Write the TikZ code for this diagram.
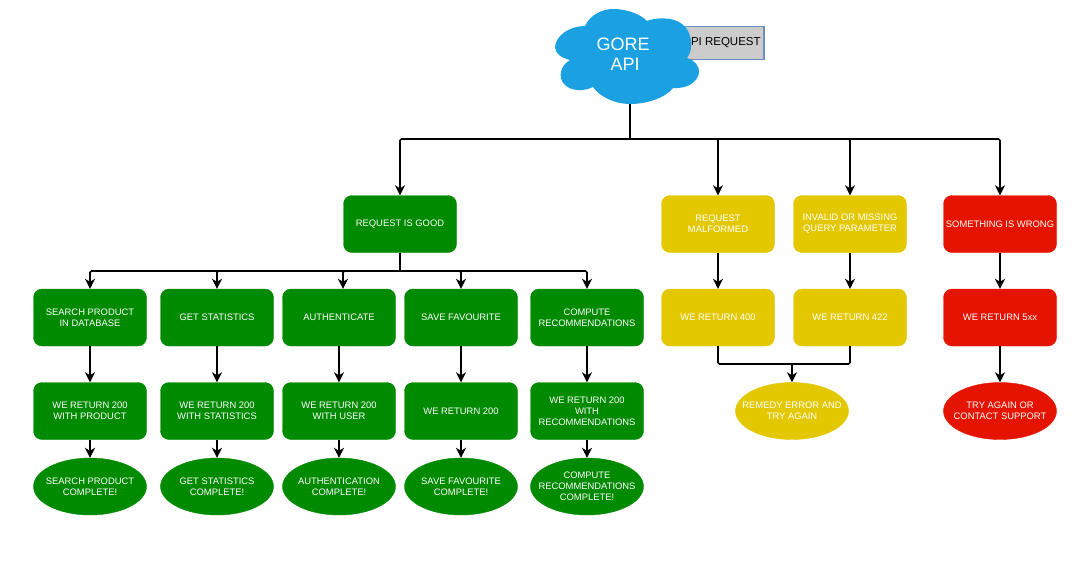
\documentclass[tikz,border=0pt]{standalone}
\usepackage{fontspec}
\setmainfont{Liberation Sans}
\usetikzlibrary{arrows.meta,shapes.geometric}
\definecolor{goodgreen}{HTML}{008A00}
\definecolor{warnyellow}{HTML}{E3C800}
\definecolor{errorred}{HTML}{E51400}
\definecolor{cloudblue}{HTML}{1BA1E2}
\definecolor{reqgray}{HTML}{CCCCCC}
\definecolor{reqblue}{HTML}{6C8EBF}
\tikzset{
	flowbox/.style={rectangle,rounded corners=8.5pt,minimum width=113pt,minimum height=57pt,inner sep=0pt,align=center,text=white,font=\fontsize{9.4}{11}\selectfont},
	flowend/.style={ellipse,minimum width=113pt,minimum height=57pt,inner xsep=-40pt,inner ysep=-20pt,align=center,text=white,font=\fontsize{9.4}{11}\selectfont},
	good/.style={flowbox,draw=goodgreen,fill=goodgreen},
	goodend/.style={flowend,draw=goodgreen,fill=goodgreen},
	warn/.style={flowbox,draw=warnyellow,fill=warnyellow},
	warnend/.style={flowend,draw=warnyellow,fill=warnyellow},
	fail/.style={flowbox,draw=errorred,fill=errorred},
	failend/.style={flowend,draw=errorred,fill=errorred},
	link/.style={draw=black,line width=1.6pt,rounded corners=1.5pt,-{Stealth[length=10pt,width=10pt,inset=3pt]}},
	plainlink/.style={draw=black,line width=1.6pt,rounded corners=1.5pt}
}

\begin{document}
\begin{tikzpicture}[x=1pt,y=-1pt]
	\useasboundingbox (0,0) rectangle (1075,568);

	\node[draw=reqblue,fill=reqgray,line width=1.5pt,minimum width=84pt,minimum height=33pt,inner sep=0pt,font=\fontsize{11.5}{13}\selectfont] (apireq) at (722,43) {API REQUEST};
	\fill[cloudblue] (555,47) .. controls (556,35) and (570,26) .. (585,26)
		.. controls (590,15) and (602,9) .. (613,9)
		.. controls (627,9) and (640,14) .. (647,21)
		.. controls (654,18) and (672,16) .. (682,24)
		.. controls (691,30) and (695,48) .. (687,58)
		.. controls (694,60) and (700,66) .. (699,73)
		.. controls (697,83) and (686,89) .. (673,88)
		.. controls (665,98) and (647,104) .. (630,104)
		.. controls (615,104) and (600,97) .. (593,87)
		.. controls (583,92) and (570,91) .. (564,84)
		.. controls (558,77) and (560,66) .. (570,60)
		.. controls (561,58) and (555,53) .. (555,47) -- cycle;
	\node[text=white,align=center,inner sep=0pt,font=\fontsize{18}{20}\selectfont] (api) at (623,54) {GORE\\\hspace{4pt}API};
	\coordinate (apibot) at (630,104);
	\coordinate (apibus) at (630,139);

	\node[good] (reqgood) at (400,224) {REQUEST IS GOOD};
	\node[warn] (malformed) at (718,224) {REQUEST\\MALFORMED};
	\node[warn] (badquery) at (850,224) {INVALID OR MISSING\\QUERY PARAMETER};
	\node[fail] (wrong) at (1000,224) {SOMETHING IS WRONG};

	\node[good] (search) at (90,317.5) {SEARCH PRODUCT\\IN DATABASE};
	\node[good] (stats) at (217,317.5) {GET STATISTICS};
	\node[good] (auth) at (339,317.5) {AUTHENTICATE};
	\node[good] (save) at (461,317.5) {SAVE FAVOURITE};
	\node[good] (recs) at (587,317.5) {COMPUTE\\RECOMMENDATIONS};
	\node[warn] (ret400) at (718,317.5) {WE RETURN 400};
	\node[warn] (ret422) at (850,317.5) {WE RETURN 422};
	\node[fail] (ret5xx) at (1000,317.5) {WE RETURN 5xx};

	\node[good] (retsearch) at (90,411) {WE RETURN 200\\WITH PRODUCT};
	\node[good] (retstats) at (217,411) {WE RETURN 200\\WITH STATISTICS};
	\node[good] (retauth) at (339,411) {WE RETURN 200\\WITH USER};
	\node[good] (retsave) at (461,411) {WE RETURN 200};
	\node[good] (retrecs) at (587,411) {WE RETURN 200\\WITH\\RECOMMENDATIONS};
	\node[warnend] (remedy) at (792,411) {REMEDY ERROR AND\\TRY AGAIN};
	\node[failend] (retry) at (1000,411) {TRY AGAIN OR\\CONTACT SUPPORT};

	\node[goodend] (donesearch) at (90,486.5) {SEARCH PRODUCT\\COMPLETE!};
	\node[goodend] (donestats) at (217,486.5) {GET STATISTICS\\COMPLETE!};
	\node[goodend] (doneauth) at (339,486.5) {AUTHENTICATION\\COMPLETE!};
	\node[goodend] (donesave) at (461,486.5) {SAVE FAVOURITE\\COMPLETE!};
	\node[goodend] (donerecs) at (587,486.5) {COMPUTE\\RECOMMENDATIONS\\COMPLETE!};

	\coordinate (goodbus) at (400,271);
	\coordinate (warnbus) at (792,364);

	\draw[plainlink] (apibot) -- (apibus);
	\draw[link] (apibus) -| (reqgood.north);
	\draw[link] (apibus) -| (malformed.north);
	\draw[link] (apibus) -| (badquery.north);
	\draw[link] (apibus) -| (wrong.north);

	\draw[plainlink] (reqgood.south) -- (goodbus);
	\draw[link] (goodbus) -| (search.north);
	\draw[link] (goodbus) -| (stats.north);
	\draw[link] (goodbus) -| ([xshift=4pt]auth.north);
	\draw[link] (goodbus) -| (save.north);
	\draw[link] (goodbus) -| (recs.north);

	\draw[link] (search) -- (retsearch);
	\draw[link] (stats) -- (retstats);
	\draw[link] (auth) -- (retauth);
	\draw[link] (save) -- (retsave);
	\draw[link] (recs) -- (retrecs);
	\draw[link] (retsearch) -- (donesearch);
	\draw[link] (retstats) -- (donestats);
	\draw[link] (retauth) -- (doneauth);
	\draw[link] (retsave) -- (donesave);
	\draw[link] (retrecs) -- (donerecs);

	\draw[link] (malformed) -- (ret400);
	\draw[link] (badquery) -- (ret422);
	\draw[link] (wrong) -- (ret5xx);
	\draw[plainlink] (ret400.south) |- (warnbus);
	\draw[plainlink] (ret422.south) |- (warnbus);
	\draw[link] (warnbus) -- (remedy);
	\draw[link] (ret5xx) -- (retry);
\end{tikzpicture}
\end{document}
